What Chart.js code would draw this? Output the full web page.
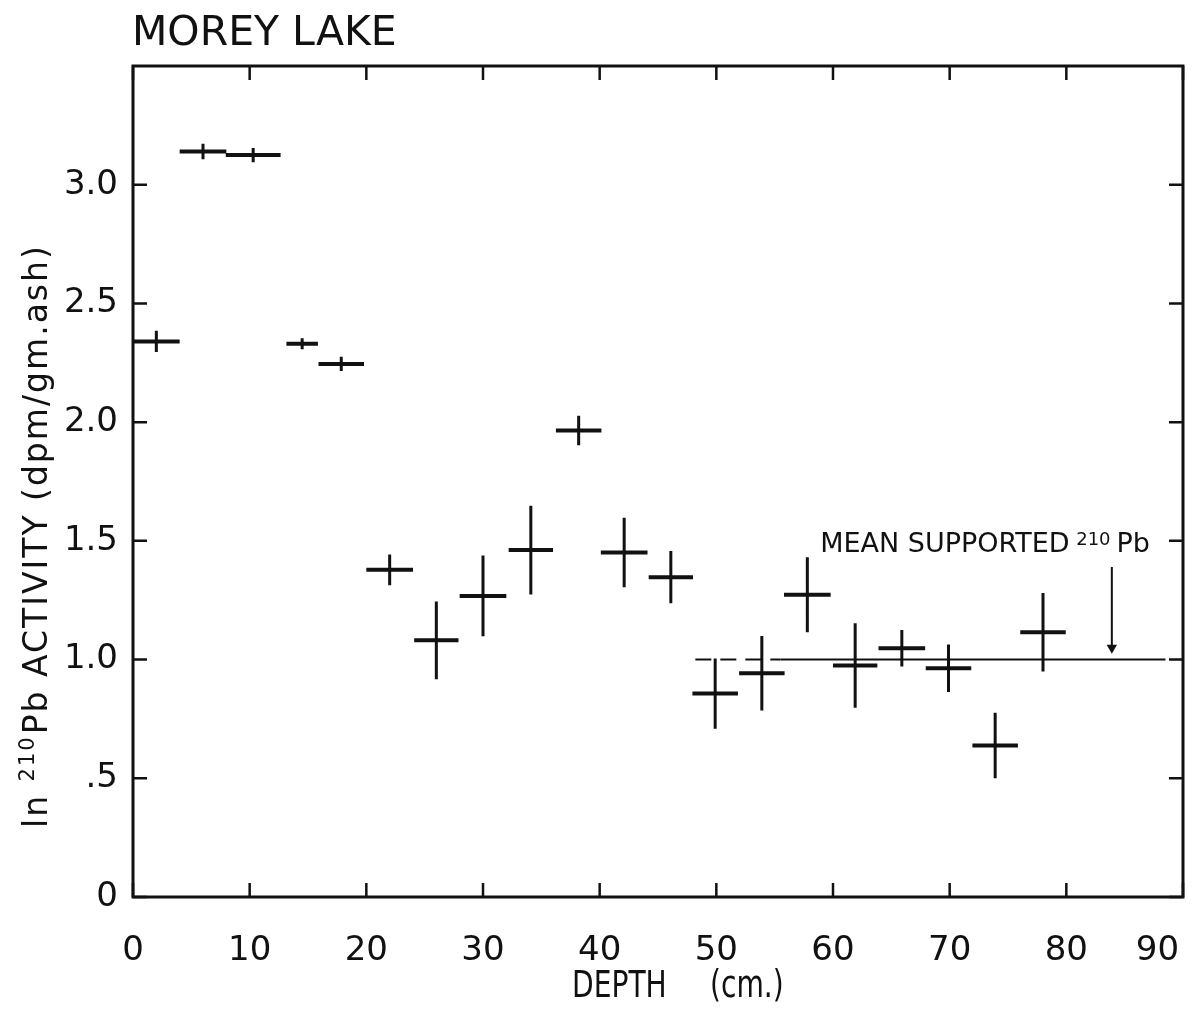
<!DOCTYPE html>
<html>
<head>
<meta charset="utf-8">
<script src="https://cdn.jsdelivr.net/npm/chart.js@4.4.1/dist/chart.umd.min.js"></script>
<style>
  html, body { margin: 0; padding: 0; background: #ffffff; }
  canvas { display: block; }
</style>
</head>
<body>
<canvas id="c" width="1193" height="1010"></canvas>
<script>
// ---- Data ----
const depth       = [2.0, 6.0, 10.3, 14.5, 17.85, 22.0, 26.0, 30.0, 34.1, 38.2, 42.1, 46.1, 49.9, 53.9, 57.8, 61.9, 65.9, 69.9, 73.9, 78.0];
const depthErr    = [2.0, 2.0, 2.35, 1.35, 1.95, 2.0, 1.9, 2.0, 1.9, 1.95, 2.0, 1.9, 1.95, 1.95, 2.0, 1.9, 2.0, 1.95, 1.95, 1.95];
const activity    = [2.34, 3.14, 3.125, 2.33, 2.245, 1.378, 1.081, 1.268, 1.461, 1.965, 1.451, 1.347, 0.857, 0.942, 1.273, 0.975, 1.048, 0.963, 0.638, 1.115];
const activityErr = [0.045, 0.033, 0.03, 0.023, 0.03, 0.065, 0.164, 0.17, 0.187, 0.062, 0.146, 0.11, 0.148, 0.157, 0.158, 0.178, 0.077, 0.1, 0.138, 0.165];

const meanSupported = 1.0;
const meanDashX  = [48.2, 55.5];
const meanSolidX = [55.5, 88.5];
const arrowX = 83.9;
const arrowY = [1.39, 1.05];

const xTickLabels = ["0", "10", "20", "30", "40", "50", "60", "70", "80", "90"];
const yTickValues = [0, 0.5, 1.0, 1.5, 2.0, 2.5, 3.0];
const yTickLabels = ["0", ".5", "1.0", "1.5", "2.0", "2.5", "3.0"];

const titleText = "MOREY LAKE";
const xTitleParts = ["DEPTH", "(cm.)"];
const noteParts = ["MEAN SUPPORTED ", "210", "Pb"];
const yTitleParts = ["ln ", "210", "Pb ACTIVITY (dpm/gm.ash)"];

// ---- Build line-segment datasets from arrays ----
const hBars = [], vBars = [];
depth.forEach((d, i) => {
  const a = activity[i];
  hBars.push({x: d - depthErr[i], y: a}, {x: d + depthErr[i], y: a}, {x: d, y: null});
  vBars.push({x: d, y: a - activityErr[i]}, {x: d, y: a + activityErr[i]}, {x: d, y: null});
});

const FONT = "'DejaVu Sans', sans-serif";
const INK = "#111111";

const framePlugin = {
  id: 'frame',
  afterDatasetsDraw(chart) {
    const {ctx, chartArea: a, scales: {x, y}} = chart;
    ctx.save();
    ctx.strokeStyle = INK;
    ctx.lineWidth = 3;
    ctx.strokeRect(a.left, a.top, a.right - a.left, a.bottom - a.top);
    ctx.lineWidth = 2.5;
    const L = 14;
    x.ticks.forEach(t => {
      const px = x.getPixelForValue(t.value);
      ctx.beginPath();
      ctx.moveTo(px, a.bottom); ctx.lineTo(px, a.bottom - L);
      ctx.moveTo(px, a.top); ctx.lineTo(px, a.top + L);
      ctx.stroke();
    });
    y.ticks.forEach(t => {
      const py = y.getPixelForValue(t.value);
      ctx.beginPath();
      ctx.moveTo(a.left, py); ctx.lineTo(a.left + L, py);
      ctx.moveTo(a.right, py); ctx.lineTo(a.right - L, py);
      ctx.stroke();
    });
    ctx.restore();
  },
  afterDraw(chart) {
    const {ctx, scales: {x, y}} = chart;
    ctx.save();
    ctx.fillStyle = INK;
    ctx.textBaseline = 'alphabetic';
    ctx.textAlign = 'left';

    // Title
    ctx.font = "41px " + FONT;
    ctx.fillText(titleText, 132, 45);

    // X axis title (condensed lettering)
    ctx.save();
    ctx.font = "37px " + FONT;
    ctx.translate(572, 997);
    ctx.scale(0.76, 1);
    ctx.fillText(xTitleParts[0], 0, 0);
    ctx.fillText(xTitleParts[1], (710 - 572) / 0.76, 0);
    ctx.restore();

    // Annotation "MEAN SUPPORTED 210Pb"
    let nx = x.getPixelForValue(58.9);
    const ny = y.getPixelForValue(1.451);
    ctx.font = "27px " + FONT;
    ctx.fillText(noteParts[0], nx, ny);
    nx += ctx.measureText(noteParts[0]).width - 2;
    ctx.font = "18px " + FONT;
    ctx.fillText(noteParts[1], nx, ny - 7);
    nx += ctx.measureText(noteParts[1]).width + 6;
    ctx.font = "27px " + FONT;
    ctx.fillText(noteParts[2], nx, ny);

    // Y axis title rotated
    ctx.translate(47, 828);
    ctx.rotate(-Math.PI / 2);
    ctx.letterSpacing = "2px";
    let tx = 0;
    ctx.font = "33px " + FONT;
    ctx.fillText(yTitleParts[0], tx, 0);
    tx += ctx.measureText(yTitleParts[0]).width;
    ctx.font = "21px " + FONT;
    ctx.fillText(yTitleParts[1], tx, -13);
    tx += ctx.measureText(yTitleParts[1]).width + 1;
    ctx.font = "33px " + FONT;
    ctx.fillText(yTitleParts[2], tx, 0);
    ctx.restore();
  }
};

new Chart(document.getElementById('c'), {
  type: 'line',
  data: {
    datasets: [
      { data: hBars, borderColor: INK, borderWidth: 4, pointRadius: 0, spanGaps: false, tension: 0 },
      { data: vBars, borderColor: INK, borderWidth: 3, pointRadius: 0, spanGaps: false, tension: 0 },
      { data: meanDashX.map(v => ({x: v, y: meanSupported})), borderColor: INK, borderWidth: 2, borderDash: [16, 9], pointRadius: 0 },
      { data: meanSolidX.map(v => ({x: v, y: meanSupported})), borderColor: INK, borderWidth: 2, pointRadius: 0 },
      { data: arrowY.map(v => ({x: arrowX, y: v})), borderColor: INK, borderWidth: 2,
        pointRadius: [0, 6], pointStyle: 'triangle', rotation: 180,
        pointBackgroundColor: INK, pointBorderColor: INK, pointBorderWidth: 0 }
    ]
  },
  options: {
    responsive: false,
    animation: false,
    events: [],
    layout: { padding: { top: 66, right: 10, left: 0, bottom: 0 } },
    plugins: { legend: { display: false }, tooltip: { enabled: false }, title: { display: false } },
    scales: {
      x: {
        type: 'linear', min: 0, max: 90,
        afterBuildTicks: s => { s.ticks = xTickLabels.map(l => ({value: Number(l)})); },
        afterFit: s => { s.height = 113; s.paddingLeft = 0; s.paddingRight = 0; },
        grid: { display: false, drawTicks: false },
        border: { display: false },
        ticks: {
          padding: 34, color: INK, font: { family: FONT, size: 34 },
          maxRotation: 0, autoSkip: false,
          // last label sits inside the frame, as in the original drawing
          callback: (v, i) => i === xTickLabels.length - 1 ? xTickLabels[i] + '\u2003\u2002' : xTickLabels[i]
        }
      },
      y: {
        type: 'linear', min: 0, max: 3.5,
        afterBuildTicks: s => { s.ticks = yTickValues.map(v => ({value: v})); },
        afterFit: s => { s.width = 133; s.paddingTop = 0; s.paddingBottom = 0; },
        grid: { display: false, drawTicks: false },
        border: { display: false },
        ticks: {
          padding: 15, color: INK, font: { family: FONT, size: 34 },
          autoSkip: false,
          callback: (v, i) => yTickLabels[i]
        }
      }
    }
  },
  plugins: [framePlugin]
});
</script>
</body>
</html>
